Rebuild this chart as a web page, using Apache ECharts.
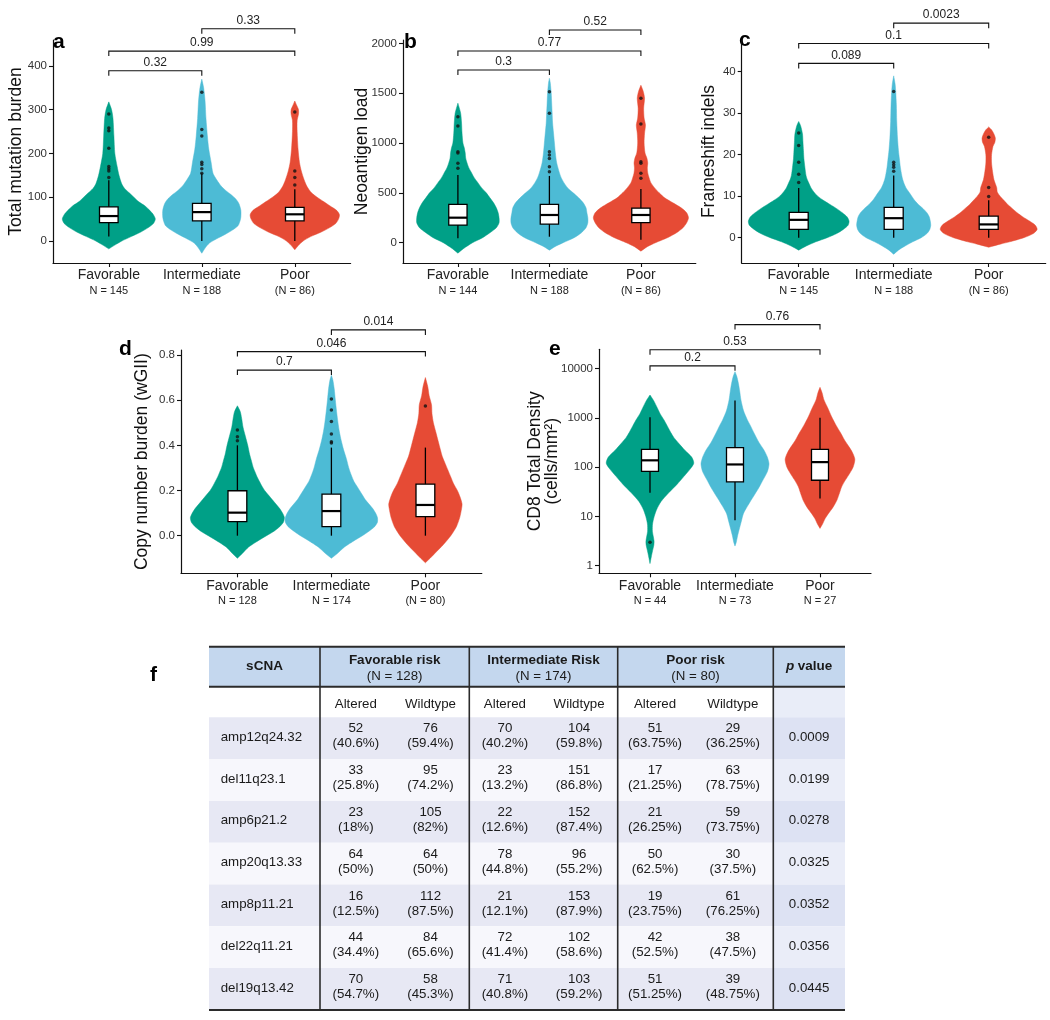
<!DOCTYPE html>
<html><head><meta charset="utf-8">
<script src="https://cdn.jsdelivr.net/npm/echarts@6/dist/echarts.min.js"></script>
<style>html,body{margin:0;padding:0;background:#fff}#c{width:1050px;height:1020px}</style>
</head><body><div id="c"></div><script>
// ---------------- DATA ----------------
const groups = ['Favorable', 'Intermediate', 'Poor'];
const pairs = [[1, 2], [1, 3], [2, 3]];

// panel a: Total mutation burden
const nA = ['N = 145', 'N = 188', '(N = 86)'];
const ticksA = [0, 100, 200, 300, 400];
const boxA = [[10, 42, 57, 78, 139], [0, 46, 66, 86, 155], [0, 46, 61, 77, 118]]; // [whiskerLow, q1, median, q3, whiskerHigh]
const outA = [[290, 258, 252, 212, 170, 165, 160, 145], [340, 255, 240, 180, 175, 165, 155], [295, 160, 145, 128]];
const pA = ['0.32', '0.99', '0.33'];
const pYA = [389, 434, 485];
const violinFavA = [[-18,0],[-10,0.06],[0,0.14],[10,0.24],[20,0.34],[30,0.42],[40,0.48],[50,0.5],[60,0.48],[70,0.44],[80,0.39],[90,0.32],[100,0.27],[110,0.22],[120,0.17],[130,0.14],[150,0.11],[170,0.09],[200,0.065],[240,0.055],[280,0.045],[300,0.03],[318,0]];
const violinIntA = [[-28,0],[-15,0.04],[-5,0.08],[5,0.16],[15,0.25],[25,0.33],[35,0.39],[45,0.41],[55,0.42],[70,0.42],[85,0.4],[95,0.37],[105,0.32],[115,0.26],[125,0.21],[140,0.16],[155,0.12],[180,0.1],[210,0.075],[240,0.06],[280,0.045],[320,0.035],[350,0.02],[370,0]];
const violinPoorA = [[-20,0],[-10,0.04],[0,0.09],[10,0.17],[20,0.28],[30,0.37],[40,0.44],[50,0.47],[60,0.48],[70,0.45],[80,0.38],[90,0.31],[100,0.24],[110,0.18],[125,0.13],[140,0.1],[160,0.07],[180,0.05],[210,0.035],[250,0.025],[275,0.025],[290,0.04],[300,0.04],[310,0.02],[320,0]];

// panel b: Neoantigen load
const nB = ['N = 144', 'N = 188', '(N = 86)'];
const ticksB = [0, 500, 1000, 1500, 2000];
const boxB = [[44, 177, 251, 385, 680], [60, 187, 278, 385, 670], [30, 201, 278, 346, 540]];
const outB = [[1264, 1171, 913, 900, 797, 746], [1515, 1298, 913, 880, 846, 763, 713], [1449, 1191, 813, 797, 696, 646]];
const pB = ['0.3', '0.77', '0.52'];
const pYB = [1733, 1923, 2134];
const violinFavB = [[-105,0],[-60,0.06],[0,0.16],[50,0.27],[100,0.35],[150,0.42],[200,0.45],[250,0.45],[300,0.44],[350,0.42],[400,0.39],[450,0.35],[500,0.31],[550,0.26],[600,0.22],[650,0.18],[700,0.15],[750,0.12],[800,0.1],[850,0.085],[900,0.08],[950,0.07],[1000,0.055],[1100,0.045],[1200,0.04],[1300,0.03],[1400,0]];
const violinIntB = [[-75,0],[-40,0.06],[0,0.15],[50,0.27],[100,0.35],[150,0.4],[200,0.42],[250,0.42],[300,0.41],[350,0.4],[400,0.37],[450,0.32],[500,0.26],[550,0.2],[600,0.16],[650,0.13],[700,0.11],[800,0.08],[900,0.065],[1000,0.055],[1100,0.045],[1200,0.035],[1300,0.03],[1400,0.025],[1500,0.02],[1600,0.01],[1650,0]];
const violinPoorB = [[-85,0],[-40,0.07],[0,0.16],[50,0.29],[100,0.39],[150,0.46],[200,0.5],[250,0.52],[300,0.5],[350,0.44],[400,0.35],[450,0.26],[500,0.2],[550,0.15],[600,0.11],[650,0.09],[700,0.075],[750,0.07],[800,0.075],[850,0.065],[900,0.045],[1000,0.035],[1100,0.04],[1180,0.05],[1250,0.035],[1350,0.03],[1450,0.04],[1520,0.025],[1580,0]];

// panel c: Frameshift indels
const nC = ['N = 145', 'N = 188', '(N = 86)'];
const ticksC = [0, 10, 20, 30, 40];
const boxC = [[0, 2, 4.3, 6.1, 12], [0, 2, 4.7, 7.3, 15], [0, 2, 3.2, 5.2, 9]];
const outC = [[25.2, 22.2, 18.2, 15.3, 13.3], [35.2, 18.2, 17.6, 17, 16], [24.2, 12.1, 9.9]];
const pC = ['0.089', '0.1', '0.0023'];
const pYC = [42, 46.8, 51.7];
const violinFavC = [[-3,0],[-2,0.08],[-1,0.18],[0,0.3],[1,0.4],[2,0.47],[3,0.52],[4,0.53],[5,0.51],[6,0.46],[7,0.4],[8,0.33],[9,0.26],[10,0.2],[11,0.16],[12,0.13],[13,0.11],[14,0.09],[15,0.077],[17,0.065],[19,0.055],[21,0.05],[23,0.045],[25,0.04],[27,0.02],[28,0]];
const violinIntC = [[-4,0],[-3,0.05],[-2,0.12],[-1,0.2],[0,0.29],[1,0.35],[2,0.38],[3,0.39],[4,0.385],[5,0.375],[6,0.35],[7,0.31],[8,0.26],[9,0.22],[10,0.19],[11,0.16],[12,0.13],[13,0.11],[14,0.095],[15,0.085],[17,0.07],[19,0.06],[21,0.05],[24,0.04],[28,0.032],[32,0.028],[35,0.022],[37,0.015],[39,0]];
const violinPoorC = [[-2.3,0],[-1.5,0.13],[-1,0.22],[0,0.37],[1,0.47],[2,0.51],[3,0.49],[4,0.43],[5,0.36],[6,0.3],[7,0.25],[8,0.2],[9,0.16],[10,0.12],[11,0.09],[12,0.085],[13,0.07],[14,0.055],[16,0.04],[18,0.03],[20,0.03],[22,0.045],[23,0.065],[24,0.07],[25,0.055],[26,0.03],[26.7,0]];

// panel d: Copy number burden (wGII)
const nD = ['N = 128', 'N = 174', '(N = 80)'];
const ticksD = [0, 0.2, 0.4, 0.6, 0.8];
const boxD = [[0, 0.062, 0.102, 0.199, 0.40], [0, 0.04, 0.109, 0.184, 0.39], [0, 0.084, 0.136, 0.228, 0.39]];
const outD = [[0.468, 0.438, 0.42], [0.605, 0.556, 0.505, 0.45, 0.416, 0.41], [0.574]];
const pD = ['0.7', '0.046', '0.014'];
const pYD = [0.733, 0.815, 0.911];
const violinFavD = [[-0.1,0],[-0.08,0.05],[-0.05,0.12],[-0.02,0.23],[0,0.31],[0.02,0.39],[0.04,0.45],[0.06,0.49],[0.08,0.5],[0.1,0.48],[0.12,0.45],[0.14,0.41],[0.16,0.37],[0.18,0.33],[0.2,0.29],[0.22,0.26],[0.24,0.235],[0.26,0.21],[0.28,0.19],[0.3,0.17],[0.33,0.15],[0.36,0.13],[0.4,0.11],[0.44,0.085],[0.48,0.06],[0.52,0.045],[0.55,0.03],[0.575,0]];
const violinIntD = [[-0.1,0],[-0.08,0.06],[-0.05,0.14],[-0.02,0.25],[0,0.33],[0.02,0.4],[0.04,0.46],[0.06,0.49],[0.08,0.49],[0.1,0.47],[0.12,0.44],[0.14,0.4],[0.16,0.36],[0.18,0.33],[0.2,0.3],[0.22,0.27],[0.24,0.24],[0.27,0.21],[0.3,0.185],[0.34,0.16],[0.38,0.13],[0.42,0.105],[0.46,0.085],[0.5,0.07],[0.55,0.055],[0.6,0.042],[0.65,0.03],[0.69,0.015],[0.71,0]];
const violinPoorD = [[-0.12,0],[-0.1,0.05],[-0.07,0.12],[-0.04,0.19],[0,0.27],[0.04,0.33],[0.08,0.365],[0.12,0.385],[0.14,0.39],[0.17,0.37],[0.2,0.34],[0.23,0.3],[0.26,0.27],[0.29,0.24],[0.32,0.21],[0.35,0.18],[0.38,0.16],[0.42,0.135],[0.46,0.11],[0.5,0.085],[0.54,0.07],[0.58,0.065],[0.62,0.04],[0.66,0.025],[0.7,0]];

// panel e: CD8 Total Density (log)
const nE = ['N = 44', 'N = 73', 'N = 27'];
const ticksE = [1, 10, 100, 1000, 10000];
const boxE = [[30, 82, 137, 229, 1030], [8.3, 50, 113, 247, 2240], [23, 54, 126, 229, 1000]];
const outE = [[3.0], [], []];
const pE = ['0.2', '0.53', '0.76'];
const pYE = [11300, 24000, 77700];
const violinFavE = [[1.1,0],[1.5,0.015],[2,0.03],[2.6,0.045],[3.1,0.048],[3.8,0.04],[5,0.028],[7,0.03],[10,0.05],[14,0.08],[20,0.13],[30,0.22],[45,0.32],[65,0.4],[90,0.47],[120,0.515],[160,0.49],[220,0.41],[300,0.34],[400,0.28],[500,0.245],[700,0.2],[900,0.165],[1200,0.12],[1600,0.085],[2200,0.045],[2900,0]];
const violinIntE = [[2.5,0],[3,0.015],[4,0.03],[5.5,0.05],[8,0.075],[11.5,0.1],[17,0.155],[25,0.215],[38,0.28],[55,0.33],[80,0.38],[116,0.4],[160,0.38],[222,0.34],[320,0.28],[485,0.225],[700,0.18],[900,0.146],[1400,0.1],[2300,0.07],[3500,0.055],[5000,0.04],[7000,0.02],[8600,0]];
const violinPoorE = [[5.7,0],[7,0.03],[9,0.06],[11.5,0.1],[15,0.15],[21.5,0.2],[30,0.23],[40,0.255],[55,0.3],[75,0.35],[100,0.39],[144,0.41],[200,0.38],[260,0.34],[350,0.29],[485,0.245],[700,0.19],[1050,0.137],[1600,0.09],[2300,0.047],[3200,0.025],[4150,0]];

// table f
const tblNames = ['amp12q24.32', 'del11q23.1', 'amp6p21.2', 'amp20q13.33', 'amp8p11.21', 'del22q11.21', 'del19q13.42'];
const tblGroupNames = ['Favorable risk', 'Intermediate Risk', 'Poor risk'];
const tblGroupN = ['(N = 128)', '(N = 174)', '(N = 80)'];
const favAlt = [52, 33, 23, 64, 16, 44, 70];
const favAltPct = ['40.6%', '25.8%', '18%', '50%', '12.5%', '34.4%', '54.7%'];
const favWt = [76, 95, 105, 64, 112, 84, 58];
const favWtPct = ['59.4%', '74.2%', '82%', '50%', '87.5%', '65.6%', '45.3%'];
const intAlt = [70, 23, 22, 78, 21, 72, 71];
const intAltPct = ['40.2%', '13.2%', '12.6%', '44.8%', '12.1%', '41.4%', '40.8%'];
const intWt = [104, 151, 152, 96, 153, 102, 103];
const intWtPct = ['59.8%', '86.8%', '87.4%', '55.2%', '87.9%', '58.6%', '59.2%'];
const poorAlt = [51, 17, 21, 50, 19, 42, 51];
const poorAltPct = ['63.75%', '21.25%', '26.25%', '62.5%', '23.75%', '52.5%', '51.25%'];
const poorWt = [29, 63, 59, 30, 61, 38, 39];
const poorWtPct = ['36.25%', '78.75%', '73.75%', '37.5%', '76.25%', '47.5%', '48.75%'];
const tblP = ['0.0009', '0.0199', '0.0278', '0.0325', '0.0352', '0.0356', '0.0445'];

// ---------------- STYLE / LAYOUT ----------------
const FONT = '"Liberation Sans", Arial, Helvetica, sans-serif';
const COLORS = ['#00A087', '#4DBBD5', '#E64B35'];

const PANELS = [
  {grid: {left: 53, top: 40, width: 297.6, height: 223}, yType: 'value', yMin: -50.3, yMax: 459.4, ticks: ticksA, fmt: v => String(v),
   name: 'Total mutation burden', nameGap: 27.5, lh: 19, n: nA, box: boxA, out: outA, p: pA, pY: pYA, violins: [violinFavA, violinIntA, violinPoorA]},
  {grid: {left: 403, top: 40, width: 292.8, height: 223}, yType: 'value', yMin: -203.7, yMax: 2033.7, ticks: ticksB, fmt: v => String(v),
   name: 'Neoantigen load', nameGap: 31, lh: 19, n: nB, box: boxB, out: outB, p: pB, pY: pYB, violins: [violinFavB, violinIntB, violinPoorB]},
  {grid: {left: 741.7, top: 40, width: 304, height: 223}, yType: 'value', yMin: -6.1, yMax: 47.64, ticks: ticksC, fmt: v => String(v),
   name: 'Frameshift indels', nameGap: 23, lh: 19, n: nC, box: boxC, out: outC, p: pC, pY: pYC, violins: [violinFavC, violinIntC, violinPoorC]},
  {grid: {left: 181, top: 350, width: 300.8, height: 223.3}, yType: 'value', yMin: -0.1665, yMax: 0.822, ticks: ticksD, fmt: v => v.toFixed(1),
   name: 'Copy number burden (wGII)', nameGap: 29.5, lh: 19, n: nD, box: boxD, out: outD, p: pD, pY: pYD, violins: [violinFavD, violinIntD, violinPoorD]},
  {grid: {left: 599, top: 349.3, width: 272, height: 224}, yType: 'log', yMin: 0.7, yMax: 24500, ticks: ticksE, fmt: v => String(Math.round(v)),
   name: 'CD8 Total Density\n(cells/mm\u00B2)', nameGap: 38, lh: 17.5, n: nE, box: boxE, out: outE, p: pE, pY: pYE, violins: [violinFavE, violinIntE, violinPoorE]}
];

function makeViolin(P) {
  return function (params, api) {
    const i = params.dataIndex;
    const x = api.value(0);
    const prof = P.violins[i];
    const right = prof.map(d => api.coord([x + d[1], d[0]]));
    const left = prof.map(d => api.coord([x - d[1], d[0]])).reverse();
    const b = P.box[i];
    const bw = 0.1;
    const lo = api.coord([x, b[0]]), hi = api.coord([x, b[4]]);
    const q1L = api.coord([x - bw, b[1]]), q3R = api.coord([x + bw, b[3]]);
    const mL = api.coord([x - bw, b[2]]), mR = api.coord([x + bw, b[2]]);
    return {type: 'group', children: [
      {type: 'polygon', shape: {points: right.concat(left), smooth: 0.25}, style: {fill: COLORS[i], stroke: COLORS[i], lineWidth: 0.8, strokeOpacity: 0.6}},
      {type: 'line', shape: {x1: lo[0], y1: lo[1], x2: hi[0], y2: hi[1]}, style: {stroke: '#000', lineWidth: 1.3}},
      {type: 'rect', shape: {x: q1L[0], y: q3R[1], width: q3R[0] - q1L[0], height: q1L[1] - q3R[1]}, style: {fill: '#fff', stroke: '#000', lineWidth: 1.3}},
      {type: 'line', shape: {x1: mL[0], y1: mL[1], x2: mR[0], y2: mR[1]}, style: {stroke: '#000', lineWidth: 2.2}}
    ]};
  };
}

function makeBracket(P) {
  return function (params, api) {
    const j = params.dataIndex;
    const a = api.coord([api.value(0), api.value(2)]);
    const b = api.coord([api.value(1), api.value(2)]);
    const drop = 5;
    return {type: 'group', children: [
      {type: 'polyline', shape: {points: [[a[0], a[1] + drop], a, b, [b[0], b[1] + drop]]}, style: {stroke: '#111', lineWidth: 1.1, fill: null}},
      {type: 'text', style: {text: P.p[j], x: (a[0] + b[0]) / 2, y: a[1] - 2, align: 'center', verticalAlign: 'bottom', textAlign: 'center', textVerticalAlign: 'bottom', fontSize: 12, fontFamily: FONT, fill: '#222'}}
    ]};
  };
}

const grids = [], xAxes = [], yAxes = [], series = [];
PANELS.forEach((P, k) => {
  grids.push(P.grid);
  xAxes.push({
    type: 'value', gridIndex: k, min: 0.4, max: 3.6,
    axisLine: {show: true, onZero: false, lineStyle: {color: '#111', width: 1.2}},
    axisTick: {show: true, customValues: [1, 2, 3], length: 4, lineStyle: {color: '#111', width: 1.1}},
    axisLabel: {show: true, customValues: [1, 2, 3], margin: 4,
      formatter: v => '{c|' + groups[Math.round(v) - 1] + '}\n{n|' + P.n[Math.round(v) - 1] + '}',
      rich: {c: {fontSize: 14, fontFamily: FONT, color: '#222', lineHeight: 17}, n: {fontSize: 11, fontFamily: FONT, color: '#222', lineHeight: 14}}},
    splitLine: {show: false}
  });
  yAxes.push({
    type: P.yType, gridIndex: k, min: P.yMin, max: P.yMax, logBase: 10,
    axisLine: {show: true, onZero: false, lineStyle: {color: '#111', width: 1.2}},
    axisTick: {show: true, customValues: P.ticks, length: 4, lineStyle: {color: '#111', width: 1.1}},
    axisLabel: {show: true, customValues: P.ticks, margin: 6, formatter: P.fmt, fontSize: 11.5, fontFamily: FONT, color: '#333'},
    splitLine: {show: false},
    name: P.name, nameLocation: 'middle', nameGap: P.nameGap, nameMoveOverlap: false,
    nameTextStyle: {fontSize: 17.5, fontFamily: FONT, color: '#111', lineHeight: P.lh}
  });
  series.push({
    type: 'custom', xAxisIndex: k, yAxisIndex: k, z: 2, silent: true,
    data: groups.map((g, i) => [i + 1, P.box[i][2]]), encode: {x: 0, y: 1},
    renderItem: makeViolin(P)
  });
  series.push({
    type: 'scatter', xAxisIndex: k, yAxisIndex: k, z: 4, silent: true, symbolSize: 3.5,
    itemStyle: {color: '#111'},
    data: P.out.flatMap((arr, i) => arr.map(v => [i + 1, v]))
  });
  series.push({
    type: 'custom', xAxisIndex: k, yAxisIndex: k, z: 5, silent: true, clip: false,
    data: P.pY.map((y, j) => [pairs[j][0], pairs[j][1], y]), encode: {x: [0, 1], y: 2},
    renderItem: makeBracket(P)
  });
});

// ---------------- TABLE (graphic) ----------------
const TFS = 13.3;
function txt(text, x, y, opt) {
  return Object.assign({type: 'text', silent: true, style: Object.assign({text: text, x: x, y: y, align: 'center', verticalAlign: 'middle', textAlign: 'center', textVerticalAlign: 'middle', fontSize: TFS, fontFamily: FONT, fill: '#1a1a1a'}, opt || {})});
}
function rect(x, y, w, h, fill) {
  return {type: 'rect', silent: true, shape: {x: x, y: y, width: w, height: h}, style: {fill: fill}};
}
function line(x1, y1, x2, y2, w) {
  return {type: 'line', silent: true, shape: {x1: x1, y1: y1, x2: x2, y2: y2}, style: {stroke: '#2b2b2b', lineWidth: w}};
}
function buildTable() {
  const els = [];
  const X = [209, 320, 469.3, 617.7, 773.3, 845];
  const yTop = 646.7, yHead = 686.7, ySub = 717.3, rowH = 41.8;
  const yBot = ySub + tblNames.length * rowH;
  const grpData = [[favAlt, favAltPct, favWt, favWtPct], [intAlt, intAltPct, intWt, intWtPct], [poorAlt, poorAltPct, poorWt, poorWtPct]];
  els.push(rect(X[0], yTop, X[5] - X[0], yHead - yTop, '#c4d7ee'));
  els.push(rect(X[4], yHead, X[5] - X[4], ySub - yHead, '#e9edf8'));
  tblNames.forEach((nm, r) => {
    const y = ySub + r * rowH;
    els.push(rect(X[0], y, X[4] - X[0], rowH, r % 2 === 0 ? '#e7e8f4' : '#f7f7fc'));
    els.push(rect(X[4], y, X[5] - X[4], rowH, r % 2 === 0 ? '#dde2f3' : '#eaedf8'));
  });
  els.push(line(X[0], yTop, X[5], yTop, 2));
  els.push(line(X[0], yHead, X[5], yHead, 2));
  els.push(line(X[0], yBot, X[5], yBot, 2));
  for (let c = 1; c <= 4; c++) els.push(line(X[c], yTop, X[c], yBot, 1.6));
  els.push(txt('sCNA', (X[0] + X[1]) / 2, 666.5, {fontWeight: 'bold', fontSize: 13.5}));
  tblGroupNames.forEach((g, k) => {
    const cx = (X[k + 1] + X[k + 2]) / 2;
    els.push(txt(g, cx, 660, {fontWeight: 'bold', fontSize: 13.5}));
    els.push(txt(tblGroupN[k], cx, 676.5));
    const w = X[k + 2] - X[k + 1];
    els.push(txt('Altered', X[k + 1] + 0.24 * w, 704));
    els.push(txt('Wildtype', X[k + 1] + 0.74 * w, 704));
  });
  els.push({type: 'text', silent: true, style: {text: '{i|p} {b|value}', x: (X[4] + X[5]) / 2, y: 666.5, align: 'center', verticalAlign: 'middle', textAlign: 'center', textVerticalAlign: 'middle',
    rich: {i: {fontStyle: 'italic', fontWeight: 'bold', fontSize: 13.5, fontFamily: FONT, fill: '#1a1a1a'}, b: {fontWeight: 'bold', fontSize: 13.5, fontFamily: FONT, fill: '#1a1a1a'}}}});
  tblNames.forEach((nm, r) => {
    const cy = ySub + r * rowH + rowH / 2;
    els.push(txt(nm, 220.7, cy - 1, {align: 'left', textAlign: 'left'}));
    grpData.forEach((gd, k) => {
      const w = X[k + 2] - X[k + 1];
      els.push(txt(gd[0][r] + '\n(' + gd[1][r] + ')', X[k + 1] + 0.24 * w, cy - 2, {lineHeight: 15}));
      els.push(txt(gd[2][r] + '\n(' + gd[3][r] + ')', X[k + 1] + 0.74 * w, cy - 2, {lineHeight: 15}));
    });
    els.push(txt(tblP[r], (X[4] + X[5]) / 2, cy - 1));
  });
  return els;
}

const letters = [['a', 53, 32], ['b', 404, 32], ['c', 739, 30], ['d', 119, 339], ['e', 549, 339], ['f', 150, 665]];
const graphics = letters.map(l => ({type: 'text', silent: true, style: {text: l[0], x: l[1], y: l[2], align: 'left', verticalAlign: 'alphabetic', textAlign: 'left', textVerticalAlign: 'alphabetic', fontSize: 21, fontWeight: 'bold', fontFamily: FONT, fill: '#000'}})).concat(buildTable());

const chart = echarts.init(document.getElementById('c'), null, {renderer: 'canvas'});
chart.setOption({
  animation: false,
  backgroundColor: '#ffffff',
  grid: grids, xAxis: xAxes, yAxis: yAxes, series: series,
  graphic: graphics
});
</script></body></html>
